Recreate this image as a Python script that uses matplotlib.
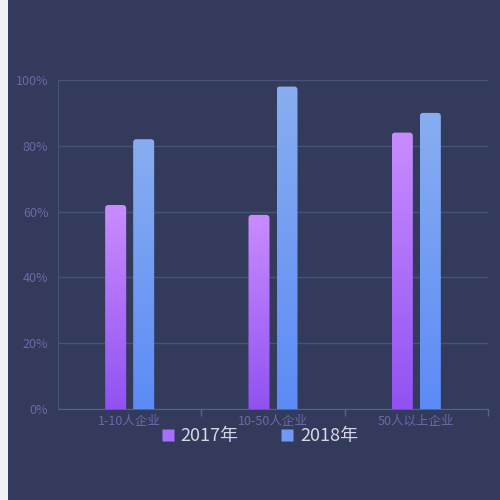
import numpy as np
import matplotlib
matplotlib.use("Agg")
import matplotlib.pyplot as plt
from matplotlib.patches import FancyBboxPatch, Rectangle
from matplotlib.lines import Line2D

plt.rcParams['font.family'] = ['Noto Sans CJK SC', 'DejaVu Sans']

categories = ['1-10人企业', '10-50人企业', '50人以上企业']
series_names = ['2017年', '2018年']
values_2017 = [62, 59, 84]
values_2018 = [82, 98, 90]
y_ticks = [0, 20, 40, 60, 80, 100]

bg = '#333a5c'
grad_2017 = ('#c98cff', '#9152f2')
grad_2018 = ('#88aef0', '#5c8bf6')

fig = plt.figure(figsize=(5, 5), dpi=100, facecolor=bg)
# light strip on the left edge
fig.patches.append(Rectangle((0, 0), 8 / 500, 1, transform=fig.transFigure,
                             facecolor='#eef0f6', edgecolor='none', zorder=-1))

ax = fig.add_axes([58 / 500, 91 / 500, 430 / 500, 329 / 500])
ax.set_facecolor(bg)
ax.set_xlim(-0.5, 2.5)
ax.set_ylim(0, 100)

x = np.arange(len(categories))
bw = 21 / 143.3
off = 14 / 143.3
bars_a = ax.bar(x - off, values_2017, width=bw, alpha=0)
bars_b = ax.bar(x + off, values_2018, width=bw, alpha=0)

aspect = 143.3 / 3.29
grad = np.linspace(1, 0, 256).reshape(-1, 1)


def gradient_bars(bars, cols):
    cmap = matplotlib.colors.LinearSegmentedColormap.from_list('g', [cols[1], cols[0]])
    for b in bars:
        x0, w, h = b.get_x(), b.get_width(), b.get_height()
        clip = FancyBboxPatch((x0, -3), w, h + 3,
                              boxstyle='round,pad=0,rounding_size=%f' % (3 / 143.3),
                              mutation_aspect=aspect, transform=ax.transData,
                              facecolor='none', edgecolor='none')
        ax.add_patch(clip)
        im = ax.imshow(grad, extent=(x0, x0 + w, 0, h), aspect='auto',
                       cmap=cmap, vmin=0, vmax=1, zorder=3)
        im.set_clip_path(clip)


gradient_bars(bars_a, grad_2017)
gradient_bars(bars_b, grad_2018)
ax.set_xlim(-0.5, 2.5)
ax.set_ylim(0, 100)

ax.set_yticks(y_ticks)
ax.set_yticklabels(['%d%%' % v for v in y_ticks])
ax.yaxis.grid(True, color='#475278', linewidth=1)
ax.set_axisbelow(True)
ax.set_xticks(x)
ax.set_xticklabels(categories)
ax.set_xticks([0.5, 1.5, 2.5], minor=True)
ax.tick_params(axis='x', which='major', length=0, pad=4, labelsize=9, labelcolor='#6a6aa8')
ax.tick_params(axis='x', which='minor', length=5, color='#56628c', width=1)
ax.tick_params(axis='y', length=0, pad=7, labelsize=9, labelcolor='#6a6aa8')

for s in ['top', 'right']:
    ax.spines[s].set_visible(False)
ax.spines['left'].set_color('#475278')
ax.spines['bottom'].set_color('#56628c')

handles = [Line2D([], [], marker='s', linestyle='none', markersize=9,
                  markerfacecolor='#a76ffb', markeredgecolor='none'),
           Line2D([], [], marker='s', linestyle='none', markersize=9,
                  markerfacecolor='#6f9af4', markeredgecolor='none')]
fig.legend(handles, series_names, loc='center', bbox_to_anchor=(0.517, 0.128),
           ncol=2, frameon=False, fontsize=13, labelcolor='#d6d8e6',
           handletextpad=0.2, columnspacing=2.2, handlelength=1.0)

fig.savefig('out.png', dpi=100, facecolor=bg)
